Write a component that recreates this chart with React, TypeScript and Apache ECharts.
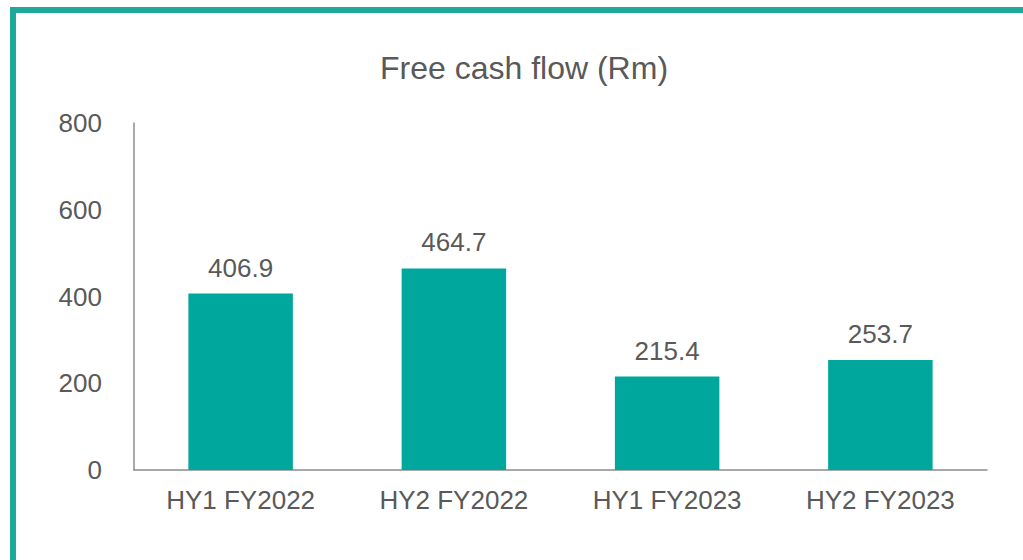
import React, { useEffect, useRef } from "react";
import * as echarts from "echarts";

const categories = ["HY1 FY2022", "HY2 FY2022", "HY1 FY2023", "HY2 FY2023"];
const freeCashFlow = [406.9, 464.7, 215.4, 253.7];
const yTicks = [0, 200, 400, 600, 800];
const titleText = "Free cash flow (Rm)";

export default function App() {
  const ref = useRef<HTMLDivElement>(null);
  useEffect(() => {
    if (!ref.current) return;
    const chart = echarts.init(ref.current, null, { renderer: "svg" });
    const font = "Liberation Sans, Arial, sans-serif";
    chart.setOption({
      animation: false,
      backgroundColor: "#ffffff",
      title: {
        text: titleText,
        left: 519,
        top: 47,
        textAlign: "center",
        textStyle: { fontFamily: font, fontSize: 32, fontWeight: "normal", color: "#595959" },
      },
      graphic: [
        { type: "rect", shape: { x: 10, y: 7, width: 1013, height: 6 }, style: { fill: "#1FA99B" } },
        { type: "rect", shape: { x: 10, y: 7, width: 6, height: 553 }, style: { fill: "#1FA99B" } },
      ],
      grid: { left: 134, right: 36, top: 123, bottom: 90, containLabel: false },
      xAxis: {
        type: "category",
        data: categories,
        axisLine: { show: true, lineStyle: { color: "#8C8C8C", width: 1.5 } },
        axisTick: { show: false },
        axisLabel: { fontFamily: font, fontSize: 26, color: "#595959", margin: 17 },
      },
      yAxis: {
        type: "value",
        min: yTicks[0],
        max: yTicks[yTicks.length - 1],
        interval: 200,
        axisLine: { show: true, lineStyle: { color: "#8C8C8C", width: 1.5 } },
        axisTick: { show: false },
        splitLine: { show: false },
        axisLabel: { fontFamily: font, fontSize: 26, color: "#595959", margin: 32 },
      },
      series: [
        {
          type: "bar",
          data: freeCashFlow,
          barWidth: "49%",
          itemStyle: { color: "#00A79D" },
          label: {
            show: true,
            position: "top",
            distance: 13,
            fontFamily: font,
            fontSize: 26,
            color: "#595959",
            formatter: (p: any) => p.value.toFixed(1),
          },
        },
      ],
    });
    return () => chart.dispose();
  }, []);
  return (
    <div
      ref={ref}
      style={{ position: "absolute", left: 0, top: 0, width: 1023, height: 560 }}
    />
  );
}
